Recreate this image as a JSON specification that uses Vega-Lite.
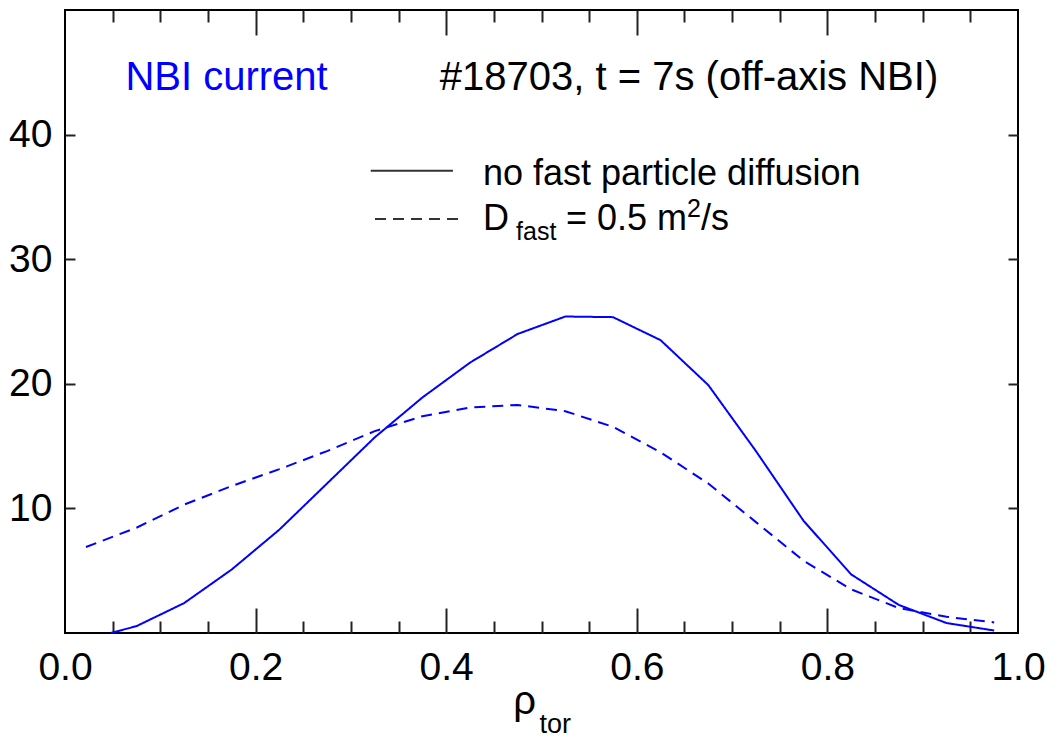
{
  "$schema": "https://vega.github.io/schema/vega-lite/v6.json",
  "width": 953,
  "height": 623,
  "autosize": {"type": "none"},
  "padding": {"left": 65, "top": 10, "right": 43, "bottom": 104},
  "background": "white",
  "config": {
    "view": {"stroke": "black", "strokeWidth": 2},
    "axis": {
      "grid": false,
      "domain": false,
      "labelFont": "Liberation Sans",
      "titleFont": "Liberation Sans",
      "labelColor": "black",
      "titleColor": "black",
      "tickColor": "#222222",
      "tickWidth": 2,
      "titleFontWeight": "normal",
      "labelFlush": false,
      "labelOverlap": false
    },
    "text": {"font": "Liberation Sans"}
  },
  "datasets": {
    "profiles": [
      {"rho": 0.048, "j": 0.0, "case": "no fast particle diffusion"},
      {"rho": 0.075, "j": 0.55, "case": "no fast particle diffusion"},
      {"rho": 0.125, "j": 2.4, "case": "no fast particle diffusion"},
      {"rho": 0.175, "j": 5.1, "case": "no fast particle diffusion"},
      {"rho": 0.225, "j": 8.3, "case": "no fast particle diffusion"},
      {"rho": 0.275, "j": 12.0, "case": "no fast particle diffusion"},
      {"rho": 0.325, "j": 15.7, "case": "no fast particle diffusion"},
      {"rho": 0.375, "j": 18.9, "case": "no fast particle diffusion"},
      {"rho": 0.425, "j": 21.7, "case": "no fast particle diffusion"},
      {"rho": 0.475, "j": 24.0, "case": "no fast particle diffusion"},
      {"rho": 0.525, "j": 25.4, "case": "no fast particle diffusion"},
      {"rho": 0.575, "j": 25.35, "case": "no fast particle diffusion"},
      {"rho": 0.625, "j": 23.5, "case": "no fast particle diffusion"},
      {"rho": 0.675, "j": 19.9, "case": "no fast particle diffusion"},
      {"rho": 0.725, "j": 14.6, "case": "no fast particle diffusion"},
      {"rho": 0.775, "j": 9.0, "case": "no fast particle diffusion"},
      {"rho": 0.825, "j": 4.7, "case": "no fast particle diffusion"},
      {"rho": 0.875, "j": 2.25, "case": "no fast particle diffusion"},
      {"rho": 0.925, "j": 0.8, "case": "no fast particle diffusion"},
      {"rho": 0.975, "j": 0.2, "case": "no fast particle diffusion"},
      {"rho": 0.022, "j": 6.9, "case": "D_fast = 0.5 m2/s"},
      {"rho": 0.075, "j": 8.45, "case": "D_fast = 0.5 m2/s"},
      {"rho": 0.125, "j": 10.3, "case": "D_fast = 0.5 m2/s"},
      {"rho": 0.175, "j": 11.8, "case": "D_fast = 0.5 m2/s"},
      {"rho": 0.225, "j": 13.15, "case": "D_fast = 0.5 m2/s"},
      {"rho": 0.275, "j": 14.6, "case": "D_fast = 0.5 m2/s"},
      {"rho": 0.325, "j": 16.2, "case": "D_fast = 0.5 m2/s"},
      {"rho": 0.375, "j": 17.4, "case": "D_fast = 0.5 m2/s"},
      {"rho": 0.425, "j": 18.1, "case": "D_fast = 0.5 m2/s"},
      {"rho": 0.475, "j": 18.3, "case": "D_fast = 0.5 m2/s"},
      {"rho": 0.525, "j": 17.8, "case": "D_fast = 0.5 m2/s"},
      {"rho": 0.575, "j": 16.55, "case": "D_fast = 0.5 m2/s"},
      {"rho": 0.625, "j": 14.5, "case": "D_fast = 0.5 m2/s"},
      {"rho": 0.675, "j": 12.0, "case": "D_fast = 0.5 m2/s"},
      {"rho": 0.725, "j": 8.9, "case": "D_fast = 0.5 m2/s"},
      {"rho": 0.775, "j": 5.8, "case": "D_fast = 0.5 m2/s"},
      {"rho": 0.825, "j": 3.5, "case": "D_fast = 0.5 m2/s"},
      {"rho": 0.875, "j": 2.0, "case": "D_fast = 0.5 m2/s"},
      {"rho": 0.925, "j": 1.3, "case": "D_fast = 0.5 m2/s"},
      {"rho": 0.975, "j": 0.85, "case": "D_fast = 0.5 m2/s"}
    ],
    "titles": [
      {"label": "NBI current", "kind": "quantity", "x": 0.1695, "y": 43.6},
      {"label": "#18703, t = 7s (off-axis NBI)", "kind": "shot", "x": 0.6548, "y": 43.6}
    ],
    "keyLabels": [
      {"label": "no fast particle diffusion", "x": 0.4386, "y": 35.96},
      {"label": "D", "x": 0.4386, "y": 32.34},
      {"label": "= 0.5 m", "x": 0.5257, "y": 32.34},
      {"label": "/s", "x": 0.6674, "y": 32.34}
    ],
    "keySub": [
      {"label": "fast", "x": 0.4733, "y": 31.54},
      {"label": "2", "x": 0.6527, "y": 33.4}
    ],
    "keyLines": [
      {"case": "no fast particle diffusion", "x": 0.3208, "x2": 0.4071, "y": 37.1},
      {"case": "D_fast = 0.5 m2/s", "x": 0.3253, "x2": 0.4124, "y": 33.23}
    ]
  },
  "resolve": {"axis": {"x": "independent", "y": "independent"}},
  "layer": [
    {
      "data": {"name": "profiles"},
      "mark": {"type": "line", "color": "#0000ff", "strokeWidth": 2},
      "encoding": {
        "x": {
          "field": "rho", "type": "quantitative",
          "scale": {"domain": [0, 1], "nice": false, "zero": false},
          "axis": {
            "orient": "bottom", "ticks": false, "labels": true,
            "values": [0, 0.2, 0.4, 0.6, 0.8, 1.0], "format": ".1f",
            "labelFontSize": 39, "labelPadding": 15,
            "title": "ρ", "titleFontSize": 40, "titleX": 459, "titleY": 80,
            "titleAlign": "center", "titleBaseline": "alphabetic"
          }
        },
        "y": {
          "field": "j", "type": "quantitative",
          "scale": {"domain": [0, 50], "nice": false, "zero": false},
          "axis": {
            "orient": "left", "ticks": false, "labels": true,
            "values": [10, 20, 30, 40],
            "labelFontSize": 39, "labelPadding": 13, "title": null
          }
        },
        "strokeDash": {
          "field": "case", "type": "nominal",
          "scale": {"domain": ["no fast particle diffusion", "D_fast = 0.5 m2/s"], "range": [[1, 0], [11, 7]]},
          "legend": null
        }
      }
    },
    {
      "data": {"name": "titles"},
      "mark": {"type": "text", "fontSize": 40, "align": "center", "baseline": "alphabetic"},
      "encoding": {
        "x": {
          "field": "x", "type": "quantitative",
          "scale": {"domain": [0, 1], "nice": false, "zero": false},
          "axis": {"orient": "bottom", "labels": false, "ticks": true, "tickSize": -25,
                   "values": [0.2, 0.4, 0.6, 0.8], "title": null}
        },
        "y": {
          "field": "y", "type": "quantitative",
          "scale": {"domain": [0, 50], "nice": false, "zero": false},
          "axis": {"orient": "right", "labels": false, "ticks": true, "tickSize": -10,
                   "values": [10, 20, 30, 40], "title": null}
        },
        "text": {"field": "label"},
        "color": {
          "field": "kind", "type": "nominal",
          "scale": {"domain": ["quantity", "shot"], "range": ["#0000ff", "#000000"]},
          "legend": null
        }
      }
    },
    {
      "data": {"name": "keyLabels"},
      "mark": {"type": "text", "fontSize": 36, "align": "left", "baseline": "alphabetic", "color": "black"},
      "encoding": {
        "x": {
          "field": "x", "type": "quantitative",
          "scale": {"domain": [0, 1], "nice": false, "zero": false},
          "axis": {"orient": "bottom", "labels": false, "ticks": true, "tickSize": -12,
                   "values": [0.05, 0.1, 0.15, 0.25, 0.3, 0.35, 0.45, 0.5, 0.55, 0.65, 0.7, 0.75, 0.85, 0.9, 0.95],
                   "title": "tor", "titleFontSize": 27, "titleX": 474, "titleY": 99,
                   "titleAlign": "left", "titleBaseline": "alphabetic"}
        },
        "y": {
          "field": "y", "type": "quantitative",
          "scale": {"domain": [0, 50], "nice": false, "zero": false},
          "axis": {"orient": "left", "labels": false, "ticks": true, "tickSize": -10,
                   "values": [10, 20, 30, 40], "title": null}
        },
        "text": {"field": "label"}
      }
    },
    {
      "data": {"name": "keySub"},
      "mark": {"type": "text", "fontSize": 25, "align": "left", "baseline": "alphabetic", "color": "black"},
      "encoding": {
        "x": {
          "field": "x", "type": "quantitative",
          "scale": {"domain": [0, 1], "nice": false, "zero": false},
          "axis": {"orient": "top", "labels": false, "ticks": true, "tickSize": -25,
                   "values": [0.2, 0.4, 0.6, 0.8], "title": null}
        },
        "y": {
          "field": "y", "type": "quantitative",
          "scale": {"domain": [0, 50], "nice": false, "zero": false},
          "axis": null
        },
        "text": {"field": "label"}
      }
    },
    {
      "data": {"name": "keyLines"},
      "mark": {"type": "rule", "color": "#333333", "strokeWidth": 2},
      "encoding": {
        "x": {
          "field": "x", "type": "quantitative",
          "scale": {"domain": [0, 1], "nice": false, "zero": false},
          "axis": {"orient": "top", "labels": false, "ticks": true, "tickSize": -12,
                   "values": [0.05, 0.1, 0.15, 0.25, 0.3, 0.35, 0.45, 0.5, 0.55, 0.65, 0.7, 0.75, 0.85, 0.9, 0.95],
                   "title": null}
        },
        "x2": {"field": "x2"},
        "y": {
          "field": "y", "type": "quantitative",
          "scale": {"domain": [0, 50], "nice": false, "zero": false},
          "axis": null
        },
        "strokeDash": {
          "field": "case", "type": "nominal",
          "scale": {"domain": ["no fast particle diffusion", "D_fast = 0.5 m2/s"], "range": [[1, 0], [11, 7]]},
          "legend": null
        }
      }
    }
  ]
}
